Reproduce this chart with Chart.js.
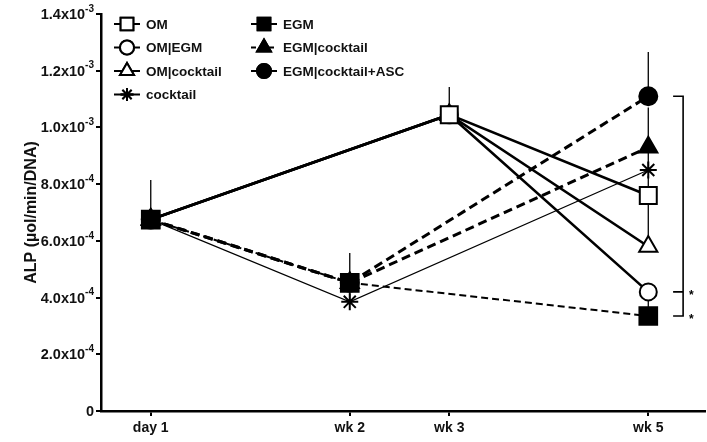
<!DOCTYPE html>
<html>
<head>
<meta charset="utf-8" />
<title>ALP</title>
<script src="https://cdn.jsdelivr.net/npm/chart.js@4.4.1/dist/chart.umd.min.js"></script>
<style>
	body { margin: 0; background: #fff; }
	canvas { display: block; }
</style>
</head>
<body>
<canvas id="AlpChart" width="707" height="442"></canvas>
<script>
// time points (in weeks) and their labels
const xWeeks = [0, 2, 3, 5];
const xLabels = ['day 1', 'wk 2', 'wk 3', 'wk 5'];
// y tick labels: mantissa and power of ten
const yTickBase = ['0', '2.0x10', '4.0x10', '6.0x10', '8.0x10', '1.0x10', '1.2x10', '1.4x10'];
const yTickExp  = ['', '-4', '-4', '-4', '-4', '-3', '-3', '-3'];

// ALP values per group (null = not measured)
const om             = [6.75e-4, null,    10.45e-4, 7.6e-4];
const omEgm          = [6.75e-4, null,    10.45e-4, 4.2e-4];
const omCocktail     = [6.75e-4, null,    10.45e-4, 5.8e-4];
const cocktail       = [6.75e-4, 3.85e-4, null,     8.5e-4];
const egm            = [6.75e-4, 4.52e-4, null,     3.35e-4];
const egmCocktail    = [6.75e-4, 4.52e-4, null,     9.3e-4];
const egmCocktailAsc = [6.75e-4, 4.52e-4, null,     11.1e-4];

// upper error bars
const omErr             = [0, 0, 0.98e-4, 0.7e-4];
const omEgmErr          = [0, 0, 0, 0.25e-4];
const omCocktailErr     = [0, 0, 0, 1.5e-4];
const cocktailErr       = [0, 0.55e-4, 0, 0.6e-4];
const egmErr            = [1.4e-4, 1.05e-4, 0, 0.6e-4];
const egmCocktailErr    = [0, 0, 0, 1.4e-4];
const egmCocktailAscErr = [0, 0, 0, 1.56e-4];

const FONT = '"Liberation Sans", Arial, sans-serif';

function pts(arr) {
	return arr.map(function(v, i) { return {x: xWeeks[i], y: v}; });
}

function series(label, values, errs, style, fill, radius, width, dash, order, legend) {
	return {
		label: label,
		data: pts(values),
		errs: errs,
		legendPos: legend,
		borderColor: '#000',
		backgroundColor: '#000',
		borderWidth: width,
		borderDash: dash,
		pointStyle: style,
		pointRadius: radius,
		pointBorderWidth: 2,
		pointBorderColor: '#000',
		pointBackgroundColor: fill,
		spanGaps: true,
		tension: 0,
		order: order
	};
}

const datasets = [
	series('OM', om, omErr, 'rect', '#fff', 12, 2.6, [], 0, [0, 0]),
	series('OM|EGM', omEgm, omEgmErr, 'circle', '#fff', 8.5, 2.6, [], 1, [0, 1]),
	series('OM|cocktail', omCocktail, omCocktailErr, 'triangle', '#fff', 10.5, 2.6, [], 2, [0, 2]),
	series('cocktail', cocktail, cocktailErr, 'star', '#000', 8.5, 1.2, [], 3, [0, 3]),
	series('EGM', egm, egmErr, 'rect', '#000', 12.5, 2, [7, 4], -1, [1, 0]),
	series('EGM|cocktail', egmCocktail, egmCocktailErr, 'triangle', '#000', 10.5, 3, [9, 5], 5, [1, 1]),
	series('EGM|cocktail+ASC', egmCocktailAsc, egmCocktailAscErr, 'circle', '#000', 9, 3, [9, 5], 6, [1, 2])
];

// error bars behind the markers
const errorBars = {
	id: 'errorBars',
	beforeDatasetsDraw(chart) {
		const ctx = chart.ctx, xs = chart.scales.x, ys = chart.scales.y;
		ctx.save();
		ctx.strokeStyle = '#000';
		ctx.lineWidth = 1.3;
		chart.data.datasets.forEach(function(ds) {
			ds.data.forEach(function(p, i) {
				if (p.y === null || !ds.errs[i]) return;
				const x = xs.getPixelForValue(p.x);
				ctx.beginPath();
				ctx.moveTo(x, ys.getPixelForValue(p.y));
				ctx.lineTo(x, ys.getPixelForValue(p.y + ds.errs[i]));
				ctx.stroke();
			});
		});
		ctx.restore();
	}
};

// y tick labels with superscript, two-column legend, significance bracket
const extras = {
	id: 'extras',
	afterDraw(chart) {
		const ctx = chart.ctx, xs = chart.scales.x, ys = chart.scales.y;
		ctx.save();

		ctx.fillStyle = '#111';
		ctx.textBaseline = 'middle';
		yTickBase.forEach(function(base, i) {
			const y = ys.getPixelForValue(i * 2e-4);
			let right = ys.right - 7;
			ctx.font = 'bold 10px ' + FONT;
			const expW = ctx.measureText(yTickExp[i]).width;
			if (yTickExp[i]) {
				ctx.textAlign = 'right';
				ctx.fillText(yTickExp[i], right, y - 5);
				right -= expW;
			}
			ctx.font = 'bold 14.5px ' + FONT;
			ctx.textAlign = 'right';
			ctx.fillText(base, right, y + 1);
		});

		ctx.textAlign = 'left';
		const colX = [127, 264], rowY = [24, 47.5, 71, 94.5];
		const legendRadius = {rect: 9, circle: 7, triangle: 8, star: 6.5};
		chart.data.datasets.forEach(function(ds) {
			const cx = colX[ds.legendPos[0]], cy = rowY[ds.legendPos[1]];
			ctx.strokeStyle = '#000';
			ctx.lineWidth = 2;
			ctx.setLineDash(ds.label === 'EGM|cocktail' ? [5, 4] : []);
			ctx.beginPath();
			ctx.moveTo(cx - 13, cy);
			ctx.lineTo(cx + 13, cy);
			ctx.stroke();
			ctx.setLineDash([]);
			ctx.fillStyle = ds.pointBackgroundColor;
			ctx.lineWidth = 2;
			Chart.helpers.drawPoint(ctx, {pointStyle: ds.pointStyle, radius: legendRadius[ds.pointStyle], rotation: 0, borderWidth: 2}, cx, cy);
			ctx.fill();
			ctx.stroke();
			ctx.fillStyle = '#111';
			ctx.font = 'bold 13.5px ' + FONT;
			ctx.fillText(ds.label, cx + 19, cy + 1);
		});

		// bracket at wk 5
		const bx = xs.getPixelForValue(5.35);
		const top = ys.getPixelForValue(egmCocktailAsc[3]);
		const mid = ys.getPixelForValue(omEgm[3]);
		const bot = ys.getPixelForValue(egm[3]);
		ctx.strokeStyle = '#000';
		ctx.lineWidth = 1.6;
		ctx.beginPath();
		ctx.moveTo(bx - 10, top); ctx.lineTo(bx, top);
		ctx.lineTo(bx, bot); ctx.lineTo(bx - 10, bot);
		ctx.moveTo(bx - 10, mid); ctx.lineTo(bx, mid);
		ctx.stroke();
		ctx.fillStyle = '#000';
		ctx.font = 'bold 12px ' + FONT;
		ctx.fillText('*', bx + 6, mid + 4);
		ctx.fillText('*', bx + 6, bot + 4);
		ctx.restore();
	}
};

new Chart(document.getElementById('AlpChart').getContext('2d'), {
	type: 'line',
	data: {datasets: datasets},
	options: {
		responsive: false,
		devicePixelRatio: 1,
		animation: false,
		layout: {autoPadding: false, padding: {top: 14, right: 2, left: 0, bottom: 0}},
		plugins: {legend: {display: false}, tooltip: {enabled: false}},
		scales: {
			x: {
				type: 'linear',
				min: -0.5,
				max: 5.57,
				afterFit: function(scale) {
					scale.height = 31;
					scale.paddingLeft = 0;
					scale.paddingRight = 0;
				},
				afterBuildTicks: function(scale) { scale.ticks = xWeeks.map(function(v) { return {value: v}; }); },
				border: {display: true, color: '#000', width: 2.5},
				grid: {display: true, drawOnChartArea: false, drawTicks: true, tickLength: 5, color: '#000', lineWidth: 2},
				ticks: {
					color: '#111',
					padding: 4,
					maxRotation: 0,
					autoSkip: false,
					font: {family: FONT, size: 14, weight: 'bold'},
					callback: function(value) { return xLabels[xWeeks.indexOf(value)]; }
				}
			},
			y: {
				min: 0,
				max: 1.4e-3,
				afterFit: function(scale) {
					scale.width = 101;
					scale.paddingTop = 0;
					scale.paddingBottom = 0;
				},
				border: {display: true, color: '#000', width: 2.5},
				grid: {display: true, drawOnChartArea: false, drawTicks: true, tickLength: 5, color: '#000', lineWidth: 2},
				ticks: {
					stepSize: 2e-4,
					display: false
				},
				title: {
					display: true,
					text: 'ALP (µol/min/DNA)',
					color: '#111',
					padding: {top: 22, bottom: 0},
					font: {family: FONT, size: 16, weight: 'bold'}
				}
			}
		}
	},
	plugins: [errorBars, extras]
});
</script>
</body>
</html>
